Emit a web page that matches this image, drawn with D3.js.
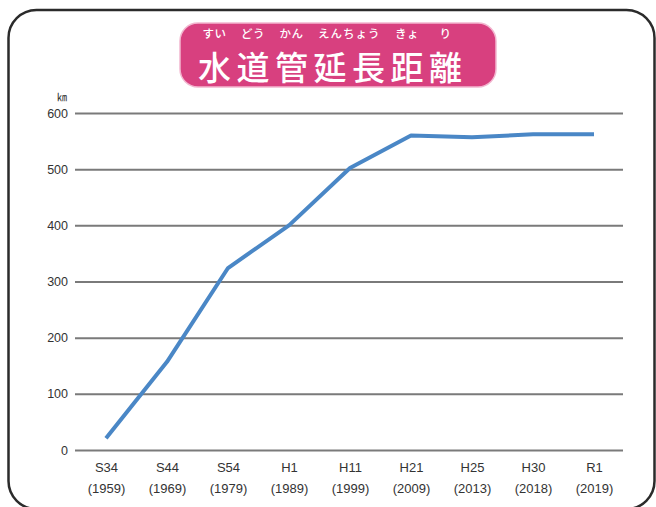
<!DOCTYPE html>
<html>
<head>
<meta charset="utf-8">
<script src="https://cdn.jsdelivr.net/npm/d3@7"></script>
<style>
  html, body { margin: 0; padding: 0; background: #fff; }
  svg { display: block; }
</style>
</head>
<body>
<svg id="chart" width="656" height="507"></svg>
<script>
// Water main length (km) by year
const eraLabels = ["S34", "S44", "S54", "H1", "H11", "H21", "H25", "H30", "R1"];
const yearLabels = ["(1959)", "(1969)", "(1979)", "(1989)", "(1999)", "(2009)", "(2013)", "(2018)", "(2019)"];
const lengthKm = [21, 157, 324, 400, 502, 560, 557, 562, 562];
const yTicks = [0, 100, 200, 300, 400, 500, 600];

const titleText = "水道管延長距離";
// reading groups: [kana, first char index, char count]
const rubyGroups = [["すい", 0, 1], ["どう", 1, 1], ["かん", 2, 1], ["えんちょう", 3, 2], ["きょ", 5, 1], ["り", 6, 1]];

const svg = d3.select("#chart");
const latin = "'Liberation Sans', Arial, sans-serif";

// outer frame
svg.append("rect")
  .attr("x", 8.5).attr("y", 10)
  .attr("width", 646).attr("height", 499)
  .attr("rx", 28).attr("ry", 28)
  .attr("fill", "#fff")
  .attr("stroke", "#2b2b2b").attr("stroke-width", 2.5);

// title banner
const banner = { x: 180, y: 23, w: 316, h: 64 };
svg.append("rect")
  .attr("x", banner.x).attr("y", banner.y)
  .attr("width", banner.w).attr("height", banner.h)
  .attr("rx", 18).attr("ry", 18)
  .attr("fill", "#d8407f")
  .attr("stroke", "#f2b6cf").attr("stroke-width", 1.5);

const titleFont = "'Noto Sans CJK JP', 'Noto Sans CJK SC', sans-serif";
const charSize = 33, charStep = 38.5, titleX0 = 198;
const title = svg.append("g");
titleText.split("").forEach((ch, i) => {
  title.append("text")
    .attr("x", titleX0 + i * charStep + charSize / 2)
    .attr("y", 80)
    .attr("text-anchor", "middle")
    .attr("font-family", titleFont)
    .attr("font-weight", 500)
    .attr("font-size", charSize)
    .attr("fill", "#fff")
    .text(ch);
});
rubyGroups.forEach(([kana, start, n]) => {
  const cx = titleX0 + start * charStep + (n * charStep - (charStep - charSize)) / 2;
  title.append("text")
    .attr("x", cx).attr("y", 38)
    .attr("text-anchor", "middle")
    .attr("font-family", titleFont)
    .attr("font-weight", 500)
    .attr("font-size", 11.5)
    .attr("letter-spacing", n > 1 ? 1 : 0.5)
    .attr("fill", "#fff")
    .text(kana);
});

// scales
const x = d3.scalePoint().domain(eraLabels).range([106, 594]);
const y = d3.scaleLinear().domain([0, 600]).range([450, 113]);
const gridLeft = 75, gridRight = 623;

// y gridlines and labels
const yAxis = svg.append("g").attr("transform", `translate(${gridLeft},0)`)
  .call(d3.axisLeft(y).tickValues(yTicks).tickSize(-(gridRight - gridLeft)).tickPadding(7));
yAxis.select(".domain").remove();
yAxis.selectAll(".tick line").attr("stroke", "#7a7a7a").attr("stroke-width", 2);
yAxis.selectAll(".tick text")
  .attr("font-family", latin)
  .attr("font-size", 12.5).attr("fill", "#333");

svg.append("text")
  .attr("x", 62).attr("y", 101)
  .attr("text-anchor", "middle")
  .attr("font-family", titleFont)
  .attr("font-size", 10).attr("fill", "#333")
  .text("㎞");

// x labels (two lines)
const xAxis = svg.append("g").attr("transform", "translate(0,450)")
  .call(d3.axisBottom(x).tickSize(0).tickFormat(""));
xAxis.select(".domain").remove();
xAxis.selectAll(".tick").each(function (d, i) {
  const g = d3.select(this);
  g.append("text").attr("y", 22).attr("fill", "#333")
    .attr("text-anchor", "middle")
    .attr("font-family", latin)
    .attr("font-size", 13).text(d);
  g.append("text").attr("y", 43).attr("fill", "#333")
    .attr("text-anchor", "middle")
    .attr("font-family", latin)
    .attr("font-size", 13).text(yearLabels[i]);
});

// line
const line = d3.line().x((d, i) => x(eraLabels[i])).y(d => y(d));
svg.append("path")
  .datum(lengthKm)
  .attr("d", line)
  .attr("fill", "none")
  .attr("stroke", "#4a87c6")
  .attr("stroke-width", 4)
  .attr("stroke-linejoin", "round");
</script>
</body>
</html>
